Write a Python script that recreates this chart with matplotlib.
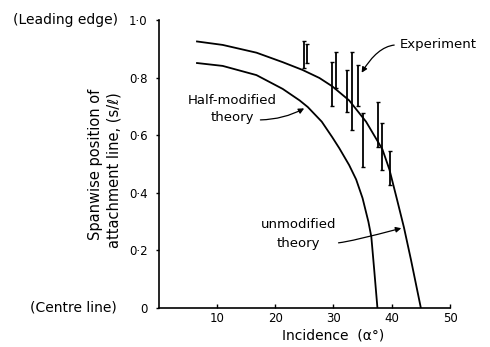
import matplotlib
matplotlib.use("Agg")
import matplotlib.pyplot as plt

# unmodified theory (outer curve)
unmod_x = [6.6, 11.0, 16.8, 21.3, 24.7, 27.6, 29.8, 32.7, 35.6, 38.4, 39.6, 40.9, 42.1, 43.3, 45.0]
unmod_y = [0.927, 0.915, 0.888, 0.855, 0.828, 0.800, 0.771, 0.722, 0.648, 0.552, 0.482, 0.378, 0.280, 0.168, 0.0]

# half-modified theory (inner curve)
half_x = [6.6, 11.0, 16.8, 21.3, 24.2, 25.6, 28.0, 29.8, 31.0, 32.7, 33.9, 35.0, 36.0, 36.5, 37.0, 37.55]
half_y = [0.852, 0.842, 0.810, 0.762, 0.722, 0.699, 0.648, 0.594, 0.556, 0.497, 0.447, 0.382, 0.300, 0.248, 0.132, 0.0]

# experiment: incidence, lower and upper end of each bar
exp_x = [24.9, 25.4, 29.8, 30.5, 32.3, 33.2, 34.3, 35.1, 37.7, 38.3, 39.7]
exp_lo = [0.835, 0.852, 0.702, 0.764, 0.683, 0.619, 0.702, 0.491, 0.561, 0.480, 0.428]
exp_hi = [0.929, 0.918, 0.857, 0.891, 0.828, 0.891, 0.845, 0.678, 0.718, 0.643, 0.547]

x_ticks = [10, 20, 30, 40, 50]
y_ticks = [0, 0.2, 0.4, 0.6, 0.8, 1.0]
y_labels = ["0", "0·2", "0·4", "0·6", "0·8", "1·0"]

plt.rcParams['font.family'] = ['DejaVu Sans']
fs = 9.5

fig = plt.figure(figsize=(4.9, 3.47), dpi=100)
ax = fig.add_axes([0.3235, 0.1124, 0.5949, 0.8286])
ax.set_xlim(0, 50)
ax.set_ylim(0, 1.0)

ax.plot(unmod_x, unmod_y, color='black', lw=1.3)
ax.plot(half_x, half_y, color='black', lw=1.3)

mid = [(lo + hi) / 2 for lo, hi in zip(exp_lo, exp_hi)]
err = [(hi - lo) / 2 for lo, hi in zip(exp_lo, exp_hi)]
ax.errorbar(exp_x, mid, yerr=err, fmt='none', ecolor='black',
            elinewidth=1.3, capsize=1.5, capthick=1.0)

for s in ['top', 'right']:
    ax.spines[s].set_visible(False)
for s in ['left', 'bottom']:
    ax.spines[s].set_linewidth(1.2)

ax.set_xticks(x_ticks)
ax.set_xticklabels([str(t) for t in x_ticks], fontsize=8.5)
ax.set_yticks(y_ticks)
ax.set_yticklabels(y_labels, fontsize=8.5)
ax.tick_params(axis='x', direction='in', length=3, width=1, pad=3)
ax.tick_params(axis='y', direction='out', length=2, width=1, pad=6)

# x axis label, sits a bit right of centre
fig.text(0.68, 0.032, "Incidence  (α°)", fontsize=fs + 0.5, ha='center', va='center')

# y axis label, two lines
fig.text(0.195, 0.525, "Spanwise position of", rotation=90, fontsize=10.5,
         ha='center', va='center')
fig.text(0.232, 0.51, "attachment line, (s/ℓ)", rotation=90, fontsize=10.5,
         ha='center', va='center')

fig.text(0.027, 0.941, "(Leading edge)", fontsize=fs + 0.5, ha='left', va='center')
fig.text(0.062, 0.1124, "(Centre line)", fontsize=fs + 0.5, ha='left', va='center')

# annotations
ax.text(41.3, 0.915, "Experiment", fontsize=fs, ha='left', va='center')
ax.annotate("", xy=(34.6, 0.81), xytext=(40.9, 0.915),
            arrowprops=dict(arrowstyle='-|>', color='black', lw=0.9,
                            mutation_scale=8,
                            connectionstyle="angle3,angleA=0,angleB=60"))

ax.text(12.6, 0.723, "Half-modified", fontsize=fs, ha='center', va='center')
ax.text(12.6, 0.664, "theory", fontsize=fs, ha='center', va='center')
ax.annotate("", xy=(25.4, 0.699), xytext=(17.0, 0.654),
            arrowprops=dict(arrowstyle='-|>', color='black', lw=0.9,
                            mutation_scale=8,
                            connectionstyle="angle3,angleA=0,angleB=30"))

ax.text(24.0, 0.289, "unmodified", fontsize=fs, ha='center', va='center')
ax.text(24.0, 0.226, "theory", fontsize=fs, ha='center', va='center')
ax.annotate("", xy=(42.1, 0.280), xytext=(30.4, 0.226),
            arrowprops=dict(arrowstyle='-|>', color='black', lw=0.9,
                            mutation_scale=8,
                            connectionstyle="angle3,angleA=0,angleB=15"))

fig.savefig('out.png', dpi=100)
